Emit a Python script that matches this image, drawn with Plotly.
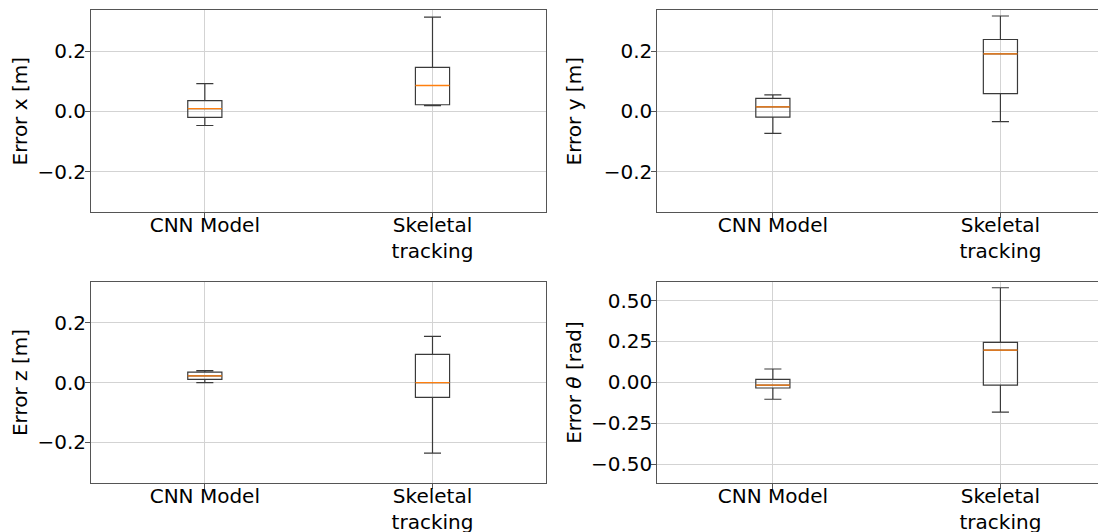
import plotly.graph_objects as go

# ---- data ----
categories = ["CNN Model", "Skeletal<br>tracking"]
positions = [1, 2]

# Error x [m]
ex_lower = [-0.047, 0.019]
ex_q1 = [-0.020, 0.022]
ex_median = [0.009, 0.086]
ex_q3 = [0.036, 0.146]
ex_upper = [0.092, 0.313]

# Error y [m]
ey_lower = [-0.073, -0.034]
ey_q1 = [-0.019, 0.059]
ey_median = [0.015, 0.191]
ey_q3 = [0.043, 0.239]
ey_upper = [0.055, 0.317]

# Error z [m]
ez_lower = [0.000, -0.236]
ez_q1 = [0.011, -0.049]
ez_median = [0.023, 0.000]
ez_q3 = [0.035, 0.095]
ez_upper = [0.040, 0.155]

# Error theta [rad]
et_lower = [-0.104, -0.182]
et_q1 = [-0.035, -0.018]
et_median = [-0.017, 0.196]
et_q3 = [0.018, 0.244]
et_upper = [0.081, 0.578]

titles = ["Error x [m]", "Error y [m]", "Error z [m]", "Error <i>θ</i> [rad]"]

m_tickvals = [-0.2, 0.0, 0.2]
m_ticktext = ["−0.2", "0.0", "0.2"]
rad_tickvals = [-0.5, -0.25, 0.0, 0.25, 0.5]
rad_ticktext = ["−0.50", "−0.25", "0.00", "0.25", "0.50"]

# ---- styling ----
FONT = "DejaVu Sans"
BOX_COLOR = "#3a3a3a"
MEDIAN_COLOR = "#ff7f0e"
SPINE_COLOR = "#555555"
GRID_COLOR = "#d3d3d3"
BOX_WIDTH = 0.15

panels = [
    (ex_lower, ex_q1, ex_median, ex_q3, ex_upper),
    (ey_lower, ey_q1, ey_median, ey_q3, ey_upper),
    (ez_lower, ez_q1, ez_median, ez_q3, ez_upper),
    (et_lower, et_q1, et_median, et_q3, et_upper),
]

fig = go.Figure()
for i, (lo, q1, med, q3, up) in enumerate(panels):
    suffix = "" if i == 0 else str(i + 1)
    fig.add_trace(go.Box(
        x=positions, lowerfence=lo, q1=q1, median=med, q3=q3, upperfence=up,
        width=BOX_WIDTH, whiskerwidth=0.5, boxpoints=False,
        line=dict(color=BOX_COLOR, width=1.2), fillcolor="rgba(0,0,0,0)",
        xaxis="x" + suffix, yaxis="y" + suffix, showlegend=False, hoverinfo="skip",
    ))
    # orange median segments spanning each box width
    mx, my = [], []
    for p, m in zip(positions, med):
        mx += [p - BOX_WIDTH / 2, p + BOX_WIDTH / 2, None]
        my += [m, m, None]
    fig.add_trace(go.Scatter(
        x=mx, y=my, mode="lines", line=dict(color=MEDIAN_COLOR, width=1.3),
        xaxis="x" + suffix, yaxis="y" + suffix, showlegend=False, hoverinfo="skip",
    ))

x_dom_left = [0.0, 0.4486]
x_dom_right = [0.5579, 1.0]
y_dom_top = [0.572, 1.0]
y_dom_bottom = [0.0, 0.4249]

def xax(domain, anchor, rng, mirror=True):
    return dict(
        domain=domain, anchor=anchor, range=rng,
        tickmode="array", tickvals=positions, ticktext=categories,
        showgrid=True, gridcolor=GRID_COLOR, gridwidth=1,
        showline=True, linecolor=SPINE_COLOR, linewidth=1, mirror=mirror,
        ticks="outside", ticklen=5, tickwidth=1, tickcolor=SPINE_COLOR,
        ticklabelstandoff=-10,
        zeroline=False, automargin=False,
        tickfont=dict(family=FONT, size=20, color="black"),
    )

def yax(domain, anchor, rng, tv, tt, title, standoff, mirror=True):
    return dict(
        domain=domain, anchor=anchor, range=rng,
        tickmode="array", tickvals=tv, ticktext=tt,
        showgrid=True, gridcolor=GRID_COLOR, gridwidth=1,
        showline=True, linecolor=SPINE_COLOR, linewidth=1, mirror=mirror,
        ticks="outside", ticklen=5, tickwidth=1, tickcolor=SPINE_COLOR,
        ticklabelstandoff=-5,
        zeroline=False, automargin=False,
        tickfont=dict(family=FONT, size=20, color="black"),
        title=dict(text=title, font=dict(family=FONT, size=20, color="black"), standoff=standoff),
    )

m_range = [-0.336, 0.337]
rad_range = [-0.616, 0.613]
left_xrange = [0.5, 2.5]
right_xrange = [0.492, 2.464]

fig.update_layout(
    width=1106, height=532,
    margin=dict(l=83, r=8, t=2, b=57),
    paper_bgcolor="white", plot_bgcolor="white",
    boxmode="overlay",
    font=dict(family=FONT, size=20, color="black"),
    xaxis=xax(x_dom_left, "y", left_xrange),
    yaxis=yax(y_dom_top, "x", m_range, m_tickvals, m_ticktext, titles[0], 5),
    xaxis2=xax(x_dom_right, "y2", right_xrange),
    yaxis2=yax(y_dom_top, "x2", m_range, m_tickvals, m_ticktext, titles[1], 16, mirror=False),
    xaxis3=xax(x_dom_left, "y3", left_xrange),
    yaxis3=yax(y_dom_bottom, "x3", m_range, m_tickvals, m_ticktext, titles[2], 5),
    xaxis4=xax(x_dom_right, "y4", right_xrange),
    yaxis4=yax(y_dom_bottom, "x4", rad_range, rad_tickvals, rad_ticktext, titles[3], 3, mirror=False),
)

fig.write_html("out.html")
